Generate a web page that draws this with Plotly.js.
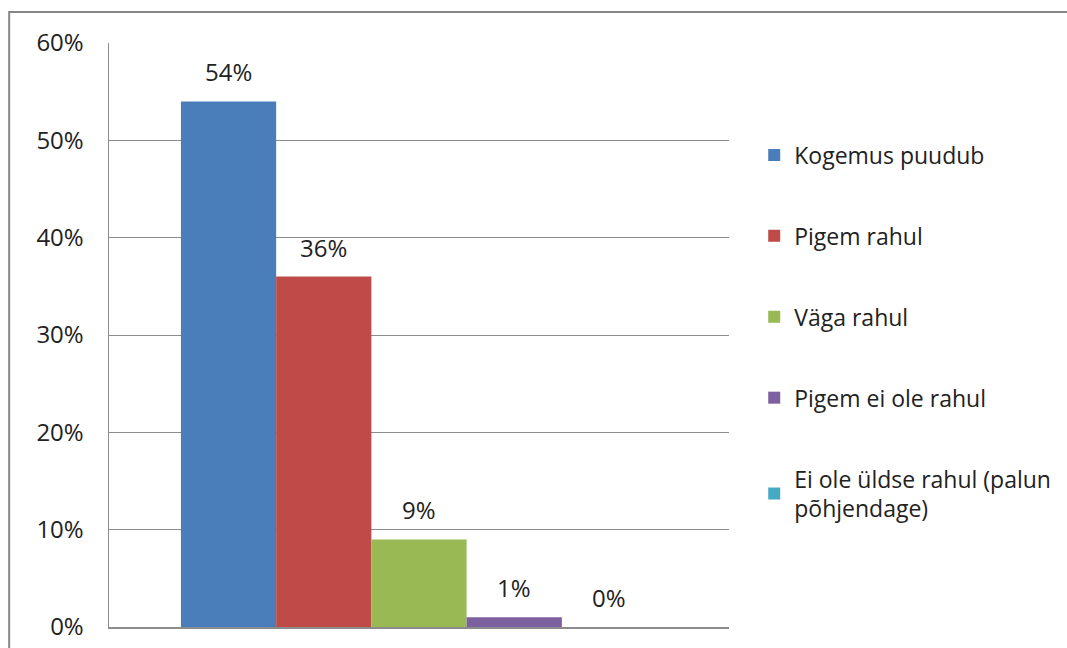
<!DOCTYPE html>
<html>
<head>
<meta charset="utf-8">
<script src="https://cdn.plot.ly/plotly-3.0.1.min.js"></script>
<style>html,body{margin:0;padding:0;background:#fff;}#chart{width:1067px;height:648px;}</style>
</head>
<body>
<div id="chart"></div>
<script>
const category = [""];
const seriesNames = ["Kogemus puudub", "Pigem rahul", "Väga rahul", "Pigem ei ole rahul", "Ei ole üldse rahul (palun<br>põhjendage)"];
const seriesValues = [0.54, 0.36, 0.09, 0.01, 0.00];
const seriesColors = ["#4A7EBB", "#BE4B48", "#98B954", "#7D60A0", "#46AAC5"];
const yTickVals = [0, 0.1, 0.2, 0.3, 0.4, 0.5, 0.6];

const FONT = "Open Sans, Lato, sans-serif";
const FS = 24;
const LEGFS = 23;
const BARGAP = 0.232;

const traces = seriesNames.map((name, i) => ({
  type: "bar",
  name: name,
  x: category,
  y: [seriesValues[i]],
  marker: {color: seriesColors[i], line: {width: 0}},
  legendgroup: "g" + i,
  hoverinfo: "none"
}));

// data labels placed at each grouped bar's slot on the category axis
const groupWidth = 1 - BARGAP;
const barWidth = groupWidth / seriesValues.length;
const annotations = seriesValues.map((v, i) => ({
  xref: "x", yref: "y",
  x: -groupWidth / 2 + barWidth * (i + 0.5),
  y: v,
  yanchor: "bottom",
  xanchor: "center",
  yshift: 11,
  showarrow: false,
  text: Math.round(v * 100) + "%",
  font: {family: FONT, size: FS, color: "#222"}
}));

const layout = {
  width: 1067,
  height: 648,
  paper_bgcolor: "#fff",
  plot_bgcolor: "#fff",
  margin: {l: 109, r: 337, t: 43, b: 21},
  barmode: "group",
  bargap: BARGAP,
  bargroupgap: 0,
  font: {family: FONT, size: FS, color: "#222"},
  showlegend: true,
  legend: {
    x: 1.039, xanchor: "left",
    y: 0.845, yanchor: "top",
    traceorder: "grouped",
    tracegroupgap: 48,
    font: {family: FONT, size: LEGFS, color: "#222"},
    itemwidth: 30,
    bgcolor: "rgba(0,0,0,0)"
  },
  xaxis: {
    showticklabels: false,
    showgrid: false,
    zeroline: false,
    showline: true,
    linecolor: "#8c8c8c",
    linewidth: 1.5,
    ticks: "",
    fixedrange: true
  },
  yaxis: {
    range: [0, 0.6],
    tickvals: yTickVals,
    tickformat: ".0%",
    showgrid: true,
    gridcolor: "#8c8c8c",
    gridwidth: 1,
    zeroline: false,
    showline: true,
    linecolor: "#8c8c8c",
    linewidth: 1.5,
    ticks: "",
    ticklabelstandoff: 19,
    tickfont: {family: FONT, size: FS, color: "#222"},
    fixedrange: true
  },
  annotations: annotations,
  shapes: [{
    type: "rect", xref: "paper", yref: "paper",
    x0: -0.161, x1: 2, y0: -1, y1: 1.053,
    line: {color: "#868686", width: 2},
    fillcolor: "rgba(0,0,0,0)"
  }]
};

Plotly.newPlot("chart", traces, layout, {staticPlot: true, displayModeBar: false});
</script>
</body>
</html>
